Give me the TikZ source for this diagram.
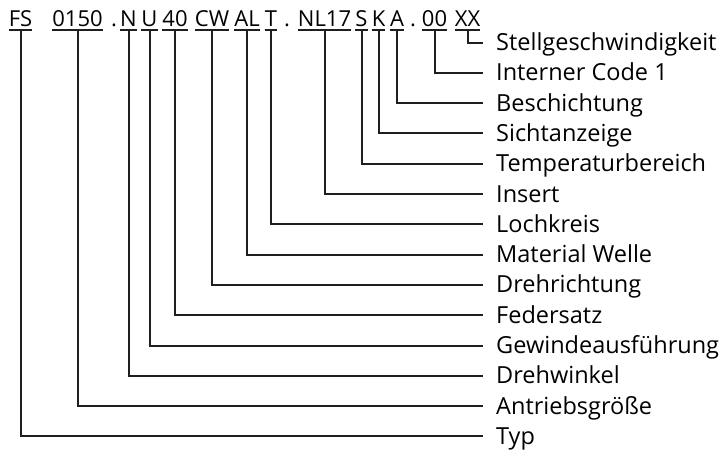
\documentclass[tikz,border=0pt]{standalone}
\usepackage{fontspec}
\setmainfont{Open Sans}
\begin{document}
\begin{tikzpicture}[x=1pt,y=-1pt,
  codeseg/.style={inner sep=0pt,anchor=base,font=\fontsize{22}{26}\selectfont},
  lbl/.style={anchor=west,inner xsep=13pt,inner ysep=0pt,text height=16pt,text depth=0pt,font=\fontsize{23.5}{28}\selectfont},
  conn/.style={line width=2pt,draw=black!88},
  uline/.style={line width=2pt,draw=black!88}]
\useasboundingbox (0,0) rectangle (723,453);
% code segments
\node[codeseg] (c1) at (20.5,26) {FS};
\node[codeseg] (c2) at (77.5,26) {0150};
\node[codeseg] (d1) at (114,26) {.};
\node[codeseg] (c3) at (128.5,26) {N};
\node[codeseg] (c4) at (149.5,26) {U};
\node[codeseg] (c5) at (175,26) {40};
\node[codeseg] (c6) at (212,26) {CW};
\node[codeseg] (c7) at (247,26) {AL};
\node[codeseg] (c8) at (271,26) {T};
\node[codeseg] (d2) at (287,26) {.};
\node[codeseg] (c9) at (324.5,26) {NL17};
\node[codeseg] (c10) at (361.5,26) {S};
\node[codeseg] (c11) at (378.5,26) {K};
\node[codeseg] (c12) at (397,26) {A};
\node[codeseg] (d3) at (413,26) {.};
\node[codeseg] (c13) at (434.5,26) {00};
\node[codeseg] (c14) at (467.5,26) {XX};
% underlines
\foreach \c in {c1,c2,c3,c4,c5,c6,c7,c8,c9,c10,c11,c12,c13,c14}
  \draw[uline] ([yshift=-3.5pt]\c.base west) -- ([yshift=-3.5pt]\c.base east);
% labels
\node[lbl] (l14) at (483,42.5) {Stellgeschwindigkeit};
\node[lbl] (l13) at (483,72.8) {Interner Code 1};
\node[lbl] (l12) at (483,103.1) {Beschichtung};
\node[lbl] (l11) at (483,133.4) {Sichtanzeige};
\node[lbl] (l10) at (483,163.7) {Temperaturbereich};
\node[lbl] (l9) at (483,194) {Insert};
\node[lbl] (l8) at (483,224.3) {Lochkreis};
\node[lbl] (l7) at (483,254.6) {Material Welle};
\node[lbl] (l6) at (483,284.9) {Drehrichtung};
\node[lbl] (l5) at (483,315.2) {Federsatz};
\node[lbl] (l4) at (483,345.5) {Gewindeausführung};
\node[lbl] (l3) at (483,375.8) {Drehwinkel};
\node[lbl] (l2) at (483,406.1) {Antriebsgröße};
\node[lbl] (l1) at (483,436.4) {Typ};
% connectors
\foreach \i in {1,...,14}
  \draw[conn] ([yshift=-3.5pt]c\i.base) |- (l\i.west);
\end{tikzpicture}
\end{document}
